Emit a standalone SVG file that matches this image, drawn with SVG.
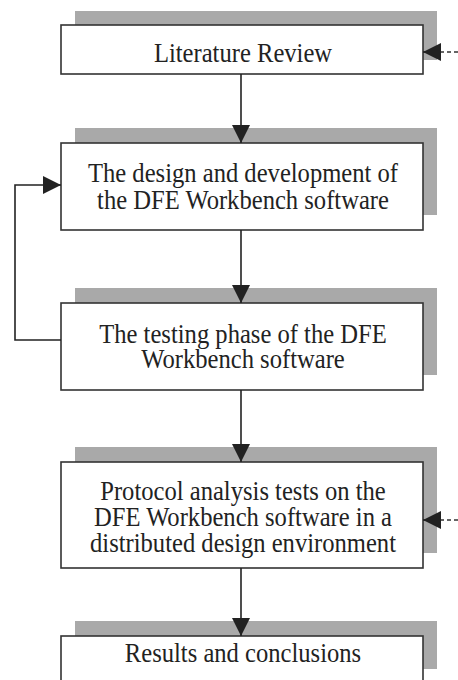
<svg xmlns="http://www.w3.org/2000/svg" width="458" height="680" viewBox="0 0 458 680">
<style>
.shadow{fill:#a9a9a9;}
.box{fill:#ffffff;stroke:#333333;stroke-width:1.6;}
.lbl{font-family:"Liberation Serif","Times New Roman",serif;font-size:24.6px;fill:#222222;text-anchor:middle;}
.conn{fill:none;stroke:#222222;stroke-width:1.6;}
.dash{fill:none;stroke:#333333;stroke-width:1.6;stroke-dasharray:4,3;}
</style>
<defs>
<marker id="ah" viewBox="0 0 18 18" refX="18" refY="9" markerWidth="18" markerHeight="18" markerUnits="userSpaceOnUse" orient="auto">
<path d="M0,0 L18,9 L0,18 Z" fill="#222222"/>
</marker>
</defs>
<rect width="458" height="680" fill="#ffffff"/>
<g id="node1">
<rect class="shadow" x="75" y="11" width="362" height="49"/>
<rect class="box" x="61" y="25" width="362" height="49"/>
<text class="lbl" transform="matrix(1 0 0 1.15 243 62)">Literature Review</text>
</g>
<g id="node2">
<rect class="shadow" x="75" y="128" width="362" height="87"/>
<rect class="box" x="61" y="143" width="362" height="87"/>
<text class="lbl" transform="matrix(1 0 0 1.15 243 182)">The design and development of</text>
<text class="lbl" transform="matrix(1 0 0 1.15 243 209)">the DFE Workbench software</text>
</g>
<g id="node3">
<rect class="shadow" x="75" y="288" width="362" height="87"/>
<rect class="box" x="61" y="303" width="362" height="87"/>
<text class="lbl" transform="matrix(1 0 0 1.15 243 343)">The testing phase of the DFE</text>
<text class="lbl" transform="matrix(1 0 0 1.15 243 368)">Workbench software</text>
</g>
<g id="node4">
<rect class="shadow" x="75" y="447" width="362" height="106"/>
<rect class="box" x="61" y="462" width="362" height="106"/>
<text class="lbl" transform="matrix(1 0 0 1.15 243 500)">Protocol analysis tests on the</text>
<text class="lbl" transform="matrix(1 0 0 1.15 243 526)">DFE Workbench software in a</text>
<text class="lbl" transform="matrix(1 0 0 1.15 243 552)">distributed design environment</text>
</g>
<g id="node5">
<rect class="shadow" x="75" y="621" width="362" height="48"/>
<rect class="box" x="61" y="636" width="362" height="60"/>
<text class="lbl" transform="matrix(1 0 0 1.15 243 662)">Results and conclusions</text>
</g>
<g id="connectors">
<path class="conn" d="M241,74 V143" marker-end="url(#ah)"/>
<path class="conn" d="M241,230 V303" marker-end="url(#ah)"/>
<path class="conn" d="M241,390 V462" marker-end="url(#ah)"/>
<path class="conn" d="M241,568 V636" marker-end="url(#ah)"/>
<path class="conn" d="M61,340 H15 V185 H61" marker-end="url(#ah)"/>
<path class="dash" d="M458,52 H440"/>
<path class="conn" d="M440,52 H423" marker-end="url(#ah)" stroke="none"/>
<path class="dash" d="M458,520 H440"/>
<path class="conn" d="M440,520 H423" marker-end="url(#ah)" stroke="none"/>
</g>
</svg>
